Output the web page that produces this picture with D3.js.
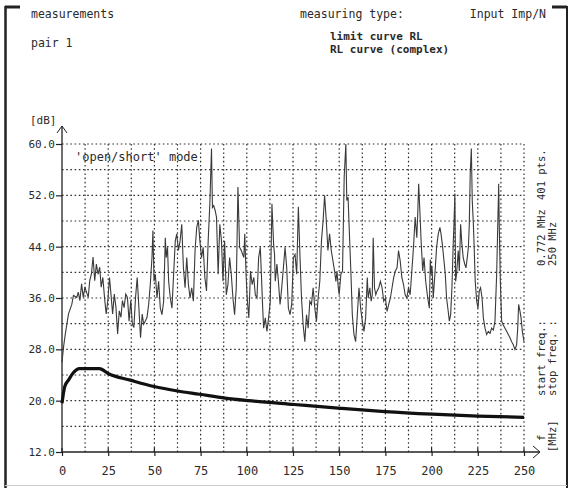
<!DOCTYPE html>
<html><head><meta charset="utf-8">
<script src="https://cdn.jsdelivr.net/npm/d3@7"></script>
<style>
html,body{margin:0;padding:0;background:#fff;}
svg{display:block;}
text{font-family:"DejaVu Sans Mono",monospace;fill:#2a2a2a;}
</style></head>
<body>
<script>
// ---- data ----
const xTicks = [0,25,50,75,100,125,150,175,200,225,250];
const yTicks = [12,20,28,36,44,52,60];
const xGrid = [12.5,25,37.5,50,62.5,75,87.5,100,112.5,125,137.5,150,162.5,175,187.5,200,212.5,225,237.5,250];
const yGrid = [16,20,24,28,32,36,40,44,48,52,56,60];

// measured RL curve (complex), frequency in MHz
const rlFreq = [0,0.9,1.8,3.5,5.3,6.2,8.0,8.8,9.7,10.6,11.5,12.4,14.2,15.0,15.9,16.8,17.7,18.6,19.5,20.4,21.2,22.1,23.0,23.9,24.8,25.7,26.5,27.4,28.3,29.2,30.1,31.0,31.9,32.7,33.6,34.5,35.4,36.3,37.2,38.1,38.9,39.8,40.7,41.6,42.5,43.4,44.2,45.1,46.0,46.9,47.8,48.7,49.2,49.8,50.5,51.4,52.3,53.2,54.1,55.0,55.9,56.4,57.1,57.7,58.6,59.5,60.4,61.3,62.1,63.0,63.9,64.8,65.7,66.6,67.5,68.4,69.3,70.2,71.1,72.0,72.9,73.8,74.6,75.5,76.4,77.3,78.2,79.1,80.0,80.9,81.4,82.1,82.9,83.6,84.5,85.4,86.3,87.1,88.0,88.9,89.8,90.7,91.6,92.5,93.4,94.3,95.2,96.1,97.0,98.4,98.9,99.6,100.2,101.1,102.0,102.9,103.8,104.6,105.5,106.4,107.3,107.9,108.6,109.1,110.0,110.9,111.8,112.7,113.6,114.5,115.0,115.4,116.3,117.1,118.0,118.9,119.8,120.7,121.6,122.5,123.4,124.3,125.2,126.1,127.0,127.9,128.8,129.6,130.5,131.4,132.3,133.2,134.1,135.0,135.9,136.8,137.7,138.6,139.5,140.4,141.3,142.1,143.0,143.9,144.8,145.7,146.6,147.5,148.2,148.8,149.5,150.0,150.9,151.8,152.7,153.6,154.1,154.8,155.4,156.3,157.1,158.0,158.9,159.8,160.7,161.6,162.5,163.4,164.3,165.2,165.7,166.6,167.3,167.9,168.4,169.1,169.8,170.5,171.4,172.3,173.2,174.1,175.0,175.9,176.8,177.7,178.6,179.5,180.4,181.3,182.1,183.0,183.9,184.8,185.7,186.6,187.5,188.4,189.3,190.2,191.1,192.0,192.5,193.0,193.8,194.3,195.2,195.9,196.8,197.9,198.8,199.3,199.6,200.2,200.9,201.4,202.0,202.7,203.6,204.5,205.1,205.8,206.7,207.4,208.1,209.0,209.6,210.3,211.0,211.7,212.1,212.6,213.0,213.5,214.4,215.0,215.7,216.4,217.1,217.9,218.6,219.3,219.9,220.4,220.9,221.5,222.0,222.6,223.1,223.6,224.4,225.1,225.8,226.5,227.3,228.0,228.9,229.8,230.7,231.6,232.5,233.4,234.3,235.2,235.7,236.3,236.6,237.2,237.9,238.8,239.7,240.6,241.5,242.4,243.3,244.2,245.1,246.0,246.6,247.1,247.8,248.4,249.1,250.0];
const rlDb = [26.0,28.5,30.4,33.5,35.0,36.4,36.1,36.9,35.6,38.2,36.1,37.7,36.1,38.7,39.7,42.4,38.7,41.3,39.7,40.8,37.7,39.2,36.1,33.5,35.6,39.2,36.6,33.5,36.6,34.5,30.4,34.0,33.0,35.6,34.5,36.6,36.1,32.4,35.6,31.9,31.4,36.1,39.2,34.5,29.8,33.5,31.9,32.4,33.0,35.0,38.2,42.4,46.5,38.6,39.7,36.0,38.6,34.4,33.4,35.5,45.4,42.3,43.9,38.6,36.0,34.4,39.7,44.9,46.0,43.4,44.9,47.5,40.7,37.6,42.3,38.1,36.0,37.6,35.5,43.4,47.0,48.1,44.9,42.3,43.9,39.2,37.1,44.9,50.7,59.3,50.1,50.4,49.6,48.6,39.7,47.5,44.9,38.6,44.9,36.5,38.1,42.3,39.7,36.0,33.4,37.6,53.3,43.9,43.4,42.3,46.0,39.7,36.0,32.9,40.2,38.1,39.2,36.5,36.0,42.3,43.9,39.7,34.4,31.3,32.9,30.8,32.9,35.5,50.7,44.4,42.8,38.6,41.3,38.6,35.0,37.6,40.7,43.9,40.7,34.4,33.4,35.0,42.3,42.8,39.7,50.2,42.3,36.0,31.8,29.2,33.4,31.3,35.5,35.0,37.6,34.4,32.4,36.0,38.6,44.9,48.1,52.0,48.1,43.4,46.0,43.4,41.8,40.2,38.6,40.2,37.6,36.5,39.7,40.2,54.9,60.0,51.2,51.7,47.0,40.2,33.4,30.3,29.2,33.4,37.6,34.4,32.4,30.8,32.9,39.2,36.0,37.6,35.5,36.5,45.4,37.6,36.5,37.1,37.6,38.6,37.6,35.5,36.0,33.9,35.0,36.0,37.6,39.2,40.2,40.7,43.4,41.8,39.2,38.1,36.5,36.0,37.6,36.5,40.2,43.9,48.6,45.4,49.1,53.8,48.6,45.0,40.2,42.3,38.6,36.0,34.4,42.0,39.7,41.0,36.0,38.1,40.7,43.9,46.0,47.0,46.0,44.4,41.8,39.7,36.0,33.9,32.4,33.4,37.6,44.4,47.5,52.3,38.6,39.7,43.4,40.2,47.5,44.4,42.3,41.3,40.7,42.3,43.9,47.5,55.4,59.3,51.2,47.5,43.4,38.6,35.5,34.4,37.1,37.6,36.0,32.9,31.3,30.3,30.8,30.5,31.3,31.0,32.4,39.7,46.0,53.8,47.5,38.6,32.4,31.8,31.3,30.8,30.3,29.8,29.2,28.7,28.0,28.7,31.3,35.0,34.0,32.9,30.8,29.2];

// limit curve RL
const limFreq = [0,1.5,3.5,6,9.4,20.3,25.2,37,49.8,62.6,74.4,88.2,101,125.6,151,174.8,200.4,225,250];
const limDb = [19.6,22.2,23.2,24.3,25.0,25.0,24.2,23.2,22.2,21.5,21.0,20.4,20.0,19.4,18.8,18.3,17.9,17.6,17.4];

// ---- drawing ----
const W = 571, H = 488;
const svg = d3.select("body").append("svg").attr("width", W).attr("height", H);

const x = d3.scaleLinear().domain([0,250]).range([62,524]);
const y = d3.scaleLinear().domain([12,60]).range([452,144]);

const ink = "#222";

// frame
svg.append("line").attr("x1",5.5).attr("x2",5.5).attr("y1",6).attr("y2",488).attr("stroke",ink).attr("stroke-width",2.5);
svg.append("line").attr("x1",5).attr("x2",20).attr("y1",7).attr("y2",7).attr("stroke",ink).attr("stroke-width",3);
svg.append("line").attr("x1",552).attr("x2",567).attr("y1",7).attr("y2",7).attr("stroke",ink).attr("stroke-width",3);
svg.append("line").attr("x1",567).attr("x2",567).attr("y1",6).attr("y2",488).attr("stroke",ink).attr("stroke-width",2);
svg.append("line").attr("x1",5).attr("x2",567).attr("y1",485.5).attr("y2",485.5).attr("stroke","#ccc").attr("stroke-width",1);

// header texts
const txt = (s, tx, ty, size, weight, fam) => svg.append("text").attr("x",tx).attr("y",ty)
  .attr("font-size",size).attr("font-weight",weight||"normal")
  .attr("font-family",fam||"DejaVu Sans Mono").text(s);
txt("measurements", 31, 18, 11.5, "normal", "DejaVu Sans");
txt("measuring type:", 300, 18, 11.5, "normal", "DejaVu Sans");
txt("Input Imp/N", 546, 18, 11.5, "normal", "DejaVu Sans").attr("text-anchor","end");
txt("pair 1", 31, 47, 11.5, "normal", "DejaVu Sans");
txt("limit curve RL", 330, 40, 11, "bold");
txt("RL curve (complex)", 330, 53, 11, "bold");
txt("[dB]", 30, 124, 11);

// grid (dotted)
const grid = svg.append("g").attr("stroke","#333").attr("stroke-width",1.2).attr("stroke-dasharray","1.6,2.6");
grid.selectAll("line.h").data(yGrid).join("line").attr("class","h")
  .attr("x1",x(0)).attr("x2",x(250)).attr("y1",d=>y(d)).attr("y2",d=>y(d));
grid.selectAll("line.v").data(xGrid).join("line").attr("class","v")
  .attr("x1",d=>x(d)).attr("x2",d=>x(d)).attr("y1",y(60)).attr("y2",y(12));

// y axis
const yAxis = d3.axisLeft(y).tickValues(yTicks).tickFormat(d3.format(".1f")).tickSize(6).tickPadding(1);
const gy = svg.append("g").attr("transform",`translate(${x(0)},0)`).call(yAxis);
gy.select(".domain").remove();
gy.selectAll("text").attr("font-size",11).attr("fill",ink).attr("font-family","DejaVu Sans Mono");
gy.selectAll("line").attr("stroke",ink).attr("stroke-width",1.2);
svg.append("line").attr("x1",x(0)).attr("x2",x(0)).attr("y1",y(12)).attr("y2",126).attr("stroke",ink).attr("stroke-width",1.3);
svg.append("path").attr("d",`M${x(0)-5},133 L${x(0)},126 L${x(0)+5},133`).attr("fill","none").attr("stroke",ink).attr("stroke-width",1);

// x axis
const xAxis = d3.axisBottom(x).tickValues(xTicks).tickFormat(d3.format("d")).tickSize(4).tickPadding(10);
const gx = svg.append("g").attr("transform",`translate(0,${y(12)})`).call(xAxis);
gx.select(".domain").remove();
gx.selectAll("text").attr("font-size",12).attr("fill",ink).attr("font-family","DejaVu Sans Mono");
gx.selectAll("line").attr("stroke",ink).attr("stroke-width",1.2);
svg.append("g").selectAll("line").data(xTicks).join("line")
  .attr("x1",d=>x(d)).attr("x2",d=>x(d)).attr("y1",y(12)-4).attr("y2",y(12)).attr("stroke",ink).attr("stroke-width",1.2);
svg.append("line").attr("x1",x(0)).attr("x2",540).attr("y1",y(12)).attr("y2",y(12)).attr("stroke",ink).attr("stroke-width",1.3);
svg.append("path").attr("d",`M533,${y(12)-6} L540,${y(12)} L533,${y(12)+6}`).attr("fill","none").attr("stroke",ink).attr("stroke-width",1);

// mode label
txt("'open/short' mode", 75, 161, 12);

// right side rotated info
const rot = (s, tx, ty) => svg.append("text").attr("transform",`translate(${tx},${ty}) rotate(-90)`)
  .attr("font-size",10.5).attr("font-family","DejaVu Sans").text(s);
rot("401 pts.", 545, 200);
rot("0.772 MHz", 545, 266);
rot("250 MHz", 556, 266);
rot("start freq.:", 545, 396);
rot("stop freq. :", 556, 396);
rot("f", 545, 441);
rot("[MHz]", 556, 452);

// curves
const rlData = rlFreq.map((f,i)=>[f, rlDb[i]]);
const limData = limFreq.map((f,i)=>[f, limDb[i]]);
const line = d3.line().x(d=>x(d[0])).y(d=>y(d[1]));
svg.append("path").datum(rlData).attr("d",line).attr("fill","none").attr("stroke","#3a3a3a").attr("stroke-width",1.1).attr("stroke-linejoin","miter");
svg.append("path").datum(limData).attr("d",d3.line().x(d=>x(d[0])).y(d=>y(d[1])).curve(d3.curveMonotoneX))
  .attr("fill","none").attr("stroke","#111").attr("stroke-width",3.2);
</script>
</body></html>
